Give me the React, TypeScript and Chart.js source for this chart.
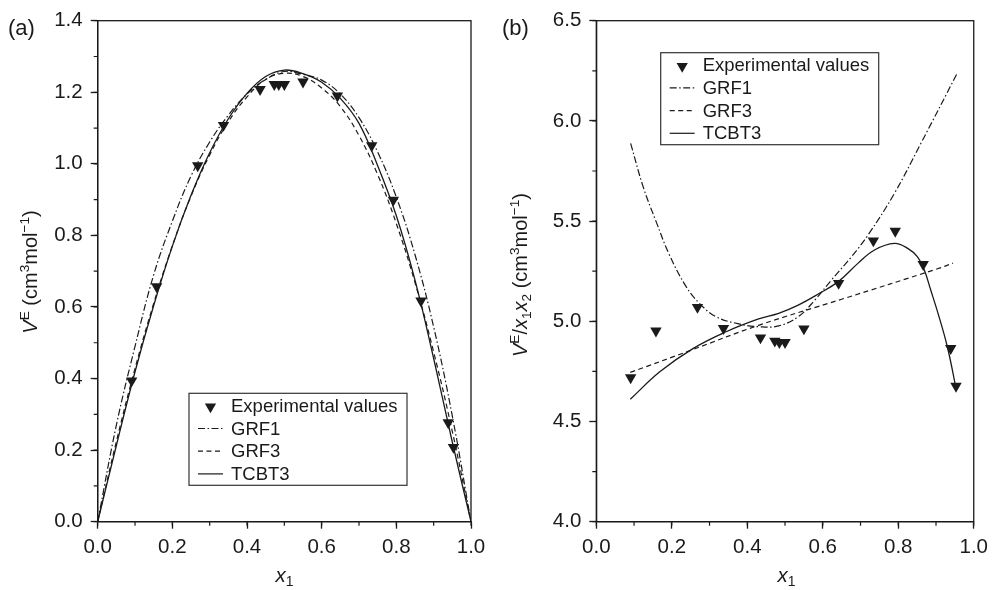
import React, { useEffect, useRef } from 'react';
import { Chart, registerables } from 'chart.js';

Chart.register(...registerables);

const FONT = '"Liberation Sans", Arial, Helvetica, sans-serif';
const INK = '#1a1a1a';

// ---------- data ----------
const legendLabels = ['Experimental values', 'GRF1', 'GRF3', 'TCBT3'];

// experimental mole fractions x1 (shared by both panels)
const expX = [0.091, 0.158, 0.268, 0.337, 0.435, 0.473, 0.485, 0.500, 0.550, 0.642, 0.734, 0.792, 0.866, 0.939, 0.953];
// panel (a): V^E
const expVE = [0.394, 0.657, 0.995, 1.108, 1.208, 1.222, 1.222, 1.222, 1.229, 1.190, 1.051, 0.899, 0.617, 0.277, 0.208];
// panel (b): V^E/x1x2
const expVEred = [4.719, 4.952, 5.070, 4.965, 4.918, 4.902, 4.895, 4.895, 4.963, 5.190, 5.402, 5.450, 5.284, 4.865, 4.677];

// panel (a) model curves
const curveX = [0, 0.05, 0.1, 0.15, 0.2, 0.25, 0.3, 0.35, 0.4, 0.45, 0.5, 0.55, 0.6, 0.65, 0.7, 0.75, 0.8, 0.85, 0.9, 0.95, 1.0];
const aGRF1 = [0, 0.27, 0.49, 0.69, 0.84, 0.966, 1.061, 1.136, 1.195, 1.236, 1.258, 1.250, 1.234, 1.195, 1.129, 1.033, 0.907, 0.746, 0.544, 0.295, 0];
const aGRF3 = [0, 0.224, 0.428, 0.610, 0.771, 0.910, 1.025, 1.118, 1.187, 1.236, 1.253, 1.244, 1.212, 1.160, 1.079, 0.970, 0.833, 0.668, 0.474, 0.252, 0];
const aTCBT3 = [0, 0.213, 0.419, 0.604, 0.770, 0.912, 1.031, 1.126, 1.197, 1.244, 1.262, 1.252, 1.228, 1.183, 1.113, 0.995, 0.855, 0.675, 0.456, 0.222, 0];

// panel (b) model curves
const bGRF1X = [0.091, 0.124, 0.159, 0.194, 0.238, 0.273, 0.317, 0.378, 0.430, 0.483, 0.535, 0.579, 0.623, 0.676, 0.720, 0.790, 0.860, 0.956];
const bGRF1Y = [5.888, 5.672, 5.495, 5.330, 5.173, 5.090, 5.023, 4.987, 4.973, 4.977, 5.023, 5.106, 5.206, 5.322, 5.431, 5.639, 5.888, 6.237];
const bGRF3X = [0.090, 0.250, 0.430, 0.650, 0.904, 0.945];
const bGRF3Y = [4.745, 4.855, 4.980, 5.110, 5.262, 5.290];
const bTCBT3X = [0.090, 0.169, 0.257, 0.344, 0.430, 0.483, 0.535, 0.588, 0.641, 0.693, 0.737, 0.790, 0.825, 0.851, 0.869, 0.886, 0.904, 0.930, 0.954];
const bTCBT3Y = [4.611, 4.749, 4.865, 4.948, 5.012, 5.040, 5.081, 5.136, 5.198, 5.289, 5.356, 5.389, 5.364, 5.322, 5.256, 5.156, 5.048, 4.873, 4.657];

const pts = (xs: number[], ys: number[]) => xs.map((x, i) => ({ x, y: ys[i] }));

// ---------- plugin: frame, minor ticks, boxed legend ----------
const decorPlugin = {
  id: 'decor',
  afterDraw(chart: any, _args: any, opts: any) {
    const ctx = chart.ctx;
    const { left, top, right, bottom } = chart.chartArea;
    ctx.save();
    ctx.strokeStyle = INK;
    ctx.lineWidth = 1.3;
    ctx.setLineDash([]);
    ctx.strokeRect(left, top, right - left, bottom - top);

    const xs = chart.scales.x;
    const ys = chart.scales.y;
    ctx.lineWidth = 1.2;
    ctx.beginPath();
    for (let v = xs.min; v <= xs.max + 1e-9; v += opts.minorX) {
      const px = xs.getPixelForValue(v);
      ctx.moveTo(px, bottom);
      ctx.lineTo(px, bottom + 4);
    }
    for (let v = ys.min; v <= ys.max + 1e-9; v += opts.minorY) {
      const py = ys.getPixelForValue(v);
      ctx.moveTo(left, py);
      ctx.lineTo(left - 4, py);
    }
    ctx.stroke();

    const bx = left + opts.legendDx;
    const by = top + opts.legendDy;
    const bw = 218;
    const bh = 92;
    ctx.fillStyle = '#fff';
    ctx.fillRect(bx, by, bw, bh);
    ctx.strokeStyle = '#333';
    ctx.lineWidth = 1.2;
    ctx.strokeRect(bx, by, bw, bh);
    ctx.font = `18.5px ${FONT}`;
    ctx.textBaseline = 'middle';
    ctx.textAlign = 'left';
    chart.data.datasets.forEach((ds: any, i: number) => {
      const cy = by + 12.5 + i * 22.7;
      if (!ds.showLine) {
        const cx = bx + 21.5;
        const r = 6.5;
        const yy = cy + 1;
        ctx.fillStyle = INK;
        ctx.beginPath();
        ctx.moveTo(cx, yy + r);
        ctx.lineTo(cx - r * 0.866, yy - r / 2);
        ctx.lineTo(cx + r * 0.866, yy - r / 2);
        ctx.closePath();
        ctx.fill();
      } else {
        ctx.strokeStyle = INK;
        ctx.lineWidth = 1.2;
        ctx.setLineDash(ds.borderDash || []);
        ctx.beginPath();
        ctx.moveTo(bx + 9, cy);
        ctx.lineTo(bx + 34, cy);
        ctx.stroke();
        ctx.setLineDash([]);
      }
      ctx.fillStyle = INK;
      ctx.fillText(ds.label, bx + 42, cy + 1);
    });
    ctx.restore();
  },
};

const dash1 = [7, 2.5, 1.5, 2.5];
const dash3 = [5, 3.5];

function makeDatasets(exp: any[], g1: any[], g3: any[], t3: any[]) {
  return [
    {
      label: legendLabels[0],
      data: exp,
      showLine: false,
      pointStyle: 'triangle',
      pointRotation: 180,
      pointRadius: 6.6,
      pointHoverRadius: 6.6,
      backgroundColor: INK,
      borderColor: INK,
      borderWidth: 0,
    },
    {
      label: legendLabels[1],
      data: g1,
      showLine: true,
      borderDash: dash1,
      borderColor: INK,
      borderWidth: 1.2,
      pointRadius: 0,
      tension: 0.4,
    },
    {
      label: legendLabels[2],
      data: g3,
      showLine: true,
      borderDash: dash3,
      borderColor: INK,
      borderWidth: 1.2,
      pointRadius: 0,
      tension: 0.4,
    },
    {
      label: legendLabels[3],
      data: t3,
      showLine: true,
      borderColor: INK,
      borderWidth: 1.3,
      pointRadius: 0,
      tension: 0.4,
    },
  ];
}

function axis(min: number, max: number, step: number, isY: boolean, fixed: number) {
  return {
    type: 'linear',
    min,
    max,
    ticks: {
      stepSize: step,
      font: { size: 20.5, family: FONT },
      color: INK,
      padding: isY ? 8 : 6,
      callback: (v: any) => Number(v).toFixed(1),
    },
    grid: {
      drawOnChartArea: false,
      drawTicks: true,
      tickLength: 7,
      tickColor: INK,
      tickWidth: 1.3,
    },
    border: { color: INK, width: 1.3 },
    title: { display: false },
    afterFit: (s: any) => {
      if (isY) s.width = fixed;
      else s.height = fixed;
    },
  };
}

function Panel(props: { which: 'a' | 'b' }) {
  const ref = useRef<HTMLCanvasElement | null>(null);
  useEffect(() => {
    if (!ref.current) return;
    const isA = props.which === 'a';
    const datasets = isA
      ? makeDatasets(pts(expX, expVE), pts(curveX, aGRF1), pts(curveX, aGRF3), pts(curveX, aTCBT3))
      : makeDatasets(pts(expX, expVEred), pts(bGRF1X, bGRF1Y), pts(bGRF3X, bGRF3Y), pts(bTCBT3X, bTCBT3Y));
    const chart = new Chart(ref.current, {
      type: 'scatter',
      data: { datasets } as any,
      options: {
        responsive: false,
        animation: false,
        devicePixelRatio: 1,
        layout: {
          padding: isA
            ? { left: 0, top: 20.7, right: 26, bottom: 18.3 }
            : { left: 0, top: 20.7, right: 17.3, bottom: 18.3 },
        },
        plugins: {
          legend: { display: false },
          tooltip: { enabled: false },
          decor: isA
            ? { minorX: 0.1, minorY: 0.1, legendDx: 91.3, legendDy: 372.6 }
            : { minorX: 0.1, minorY: 0.25, legendDx: 64.4, legendDy: 32 },
        } as any,
        scales: {
          x: axis(0, 1, 0.2, false, 50),
          y: isA ? axis(0, 1.4, 0.2, true, 97.7) : axis(4, 6.5, 0.5, true, 99.3),
        } as any,
      },
      plugins: [decorPlugin],
    });
    return () => chart.destroy();
  }, [props.which]);
  return <canvas ref={ref} width={497} height={590} style={{ position: 'absolute', left: 0, top: 0 }} />;
}

const textBase: React.CSSProperties = {
  position: 'absolute',
  fontFamily: FONT,
  color: INK,
  whiteSpace: 'nowrap',
  lineHeight: 1,
};
const supStyle: React.CSSProperties = { fontSize: '0.68em', verticalAlign: '0.55em' };
const subStyle: React.CSSProperties = { fontSize: '0.68em', verticalAlign: '-0.3em' };

export default function App() {
  return (
    <div style={{ position: 'absolute', left: 0, top: 0, width: 994, height: 590, background: '#fff', overflow: 'hidden' }}>
      <div style={{ position: 'absolute', left: 0, top: 0, width: 497, height: 590 }}>
        <Panel which="a" />
      </div>
      <div style={{ position: 'absolute', left: 497, top: 0, width: 497, height: 590 }}>
        <Panel which="b" />
      </div>

      <div style={{ ...textBase, left: 8, top: 28, fontSize: 22, transform: 'translateY(-50%)' }}>(a)</div>
      <div style={{ ...textBase, left: 502, top: 28, fontSize: 22, transform: 'translateY(-50%)' }}>(b)</div>

      <div style={{ ...textBase, left: 284.5, top: 577, fontSize: 20.5, transform: 'translate(-50%, -50%)' }}>
        <i>x</i><span style={subStyle}>1</span>
      </div>
      <div style={{ ...textBase, left: 786.5, top: 577, fontSize: 20.5, transform: 'translate(-50%, -50%)' }}>
        <i>x</i><span style={subStyle}>1</span>
      </div>

      <div style={{ ...textBase, left: 29, top: 272, fontSize: 20, transform: 'translate(-50%, -50%) rotate(-90deg)' }}>
        <i>V</i><span style={supStyle}>E</span> (cm<span style={supStyle}>3</span>mol<span style={supStyle}>−1</span>)
      </div>
      <div style={{ ...textBase, left: 521, top: 275, fontSize: 20, transform: 'translate(-50%, -50%) rotate(-90deg)' }}>
        <i>V</i><span style={supStyle}>E</span>/<i>x</i><span style={subStyle}>1</span><i>x</i><span style={subStyle}>2</span> (cm<span style={supStyle}>3</span>mol<span style={supStyle}>−1</span>)
      </div>
    </div>
  );
}
